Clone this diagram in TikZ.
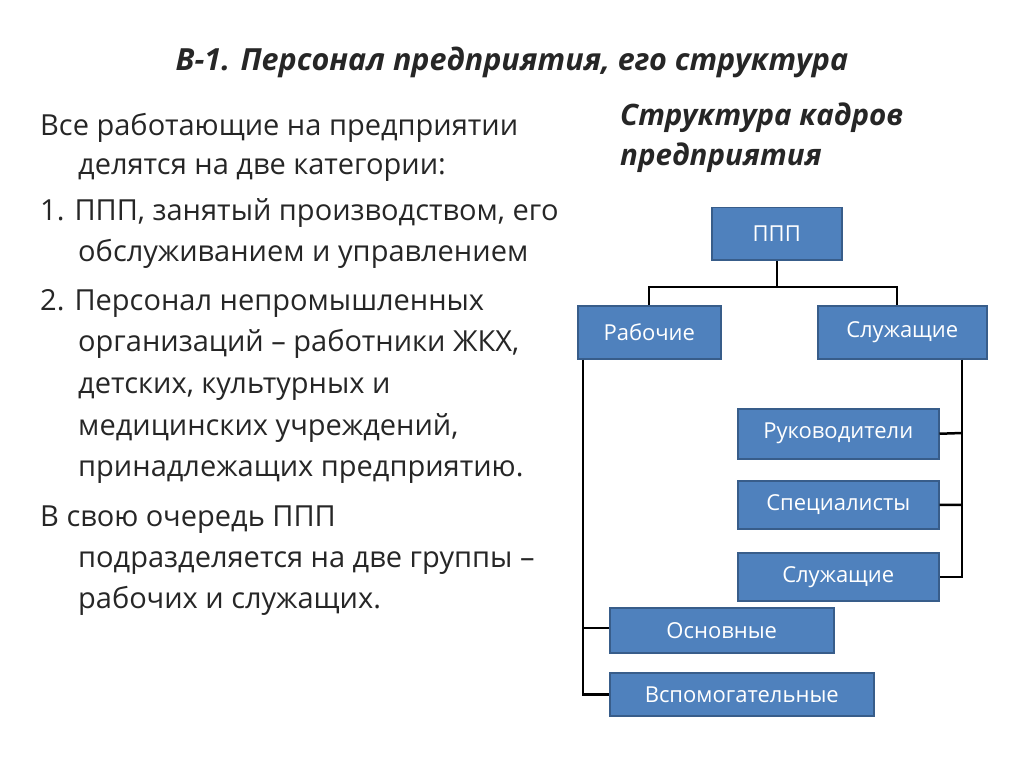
\documentclass[tikz,border=0pt]{standalone}
\usepackage{fontspec}
\setmainfont{Open Sans}
\definecolor{boxfill}{HTML}{4F81BD}
\definecolor{boxline}{HTML}{385D8A}
\definecolor{txt}{HTML}{262626}
\begin{document}
\begin{tikzpicture}[x=1pt,y=-1pt,
  bx/.style={draw=boxline,line width=1.5pt,fill=boxfill,text=white,font=\fontsize{22}{26}\selectfont,inner sep=0pt,anchor=north west},
  ln/.style={line width=2.5pt,black},
  bt/.style={anchor=base west,inner sep=0pt,text=txt,font=\fontsize{29}{32}\selectfont}]
\useasboundingbox (0,0) rectangle (1024,767);
\node[inner sep=0pt,anchor=base,text=txt,font=\fontsize{30.5}{34}\selectfont\bfseries\itshape] (title) at (512,71) {В-1. Персонал предприятия, его структура};
\node[bt] (t1) at (40,136) {Все работающие на предприятии};
\node[bt] (t2) at (78,175) {делятся на две категории:};
\node[bt] (t3) at (40,221) {1. ППП, занятый производством, его};
\node[bt] (t4) at (78,261) {обслуживанием и управлением};
\node[bt] (t5) at (40,310) {2. Персонал непромышленных};
\node[bt] (t6) at (78,351) {организаций – работники ЖКХ,};
\node[bt] (t7) at (78,393) {детских, культурных и};
\node[bt] (t8) at (78,435) {медицинских учреждений,};
\node[bt] (t9) at (78,476) {принадлежащих предприятию.};
\node[bt] (t10) at (40,526) {В свою очередь ППП};
\node[bt] (t11) at (78,567) {подразделяется на две группы –};
\node[bt] (t12) at (78,608) {рабочих и служащих.};
\node[inner sep=0pt,anchor=base west,text=txt,font=\fontsize{29.5}{32}\selectfont\bfseries\itshape] (h1) at (620,126) {Структура кадров};
\node[inner sep=0pt,anchor=base west,text=txt,font=\fontsize{29.5}{32}\selectfont\bfseries\itshape] (h2) at (620,166) {предприятия};
\node[bx,minimum width=130pt,minimum height=52pt] (ppp) at (711,207) {ППП};
\node[bx,minimum width=143pt,minimum height=53pt] (rab) at (577,305) {Рабочие};
\node[bx,minimum width=169pt,minimum height=53pt] (slu) at (817,305) {Служащие};
\node[bx,minimum width=201pt,minimum height=50pt] (ruk) at (737,408) {Руководители};
\node[bx,minimum width=201pt,minimum height=48pt] (spe) at (737,480) {Специалисты};
\node[bx,minimum width=201pt,minimum height=48pt] (sl2) at (737,552) {Служащие};
\node[bx,minimum width=224pt,minimum height=45pt] (osn) at (609,607) {Основные};
\node[bx,minimum width=264pt,minimum height=43pt] (vsp) at (609,672) {Вспомогательные};
\coordinate (j) at (ppp.south |- 0,287);
\draw[ln] (ppp.south) -- (j);
\draw[ln] (rab.north -| 649,0) |- (j) -| (slu.north -| 897,0);
\draw[ln] (rab.south -| 583,0) |- (vsp.west);
\draw[ln] (583,628) -- (osn.west |- 583,628);
\draw[ln] (slu.south -| 962,0) |- (sl2.east);
\draw[ln] (962,433) -- (ruk.east);
\draw[ln] (962,505) -- (spe.east);
\end{tikzpicture}
\end{document}
